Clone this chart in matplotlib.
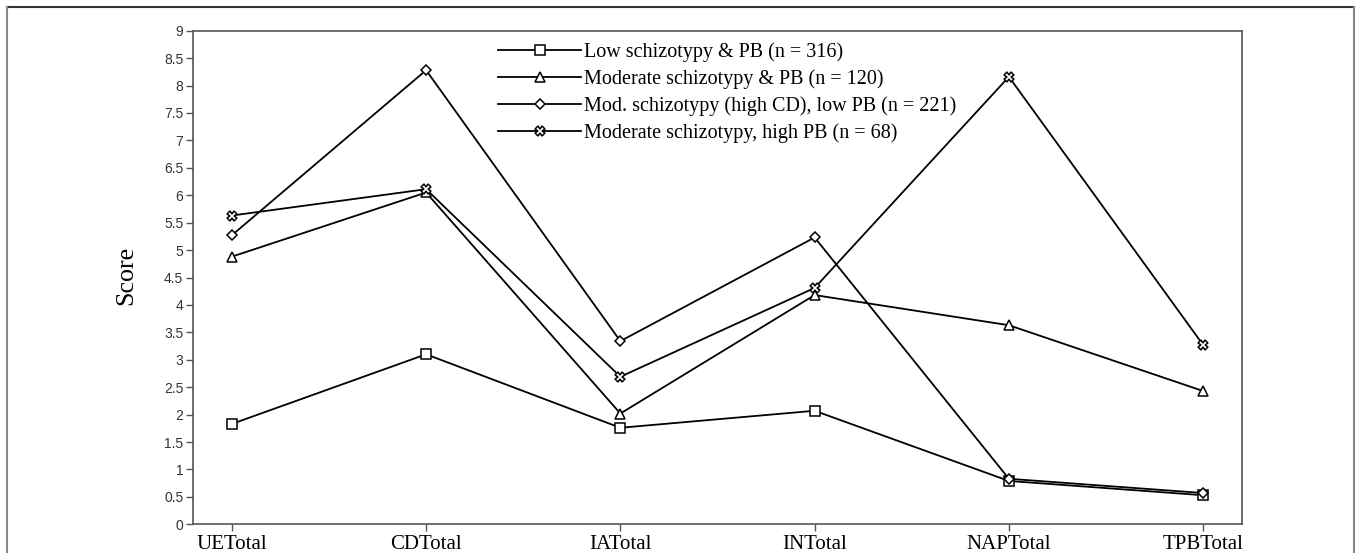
import matplotlib
matplotlib.use("Agg")
import matplotlib.pyplot as plt
from matplotlib.lines import Line2D

categories = ["UETotal", "CDTotal", "IATotal", "INTotal", "NAPTotal", "TPBTotal"]
low_pb = [1.83, 3.10, 1.76, 2.07, 0.79, 0.53]
moderate_pb = [4.88, 6.05, 2.02, 4.18, 3.63, 2.43]
mod_high_cd = [5.27, 8.28, 3.34, 5.23, 0.83, 0.57]
mod_high_pb = [5.63, 6.11, 2.69, 4.31, 8.16, 3.27]
labels = ["Low schizotypy & PB (n = 316)",
          "Moderate schizotypy & PB (n = 120)",
          "Mod. schizotypy (high CD), low PB (n = 221)",
          "Moderate schizotypy, high PB (n = 68)"]
yticks = [0, 0.5, 1, 1.5, 2, 2.5, 3, 3.5, 4, 4.5, 5, 5.5, 6, 6.5, 7, 7.5, 8, 8.5, 9]

W, H = 1360, 553
fig = plt.figure(figsize=(W / 100, H / 100), dpi=100)
ax = fig.add_axes([193 / W, 1 - 524.3 / H, (1242 - 193) / W, (524.3 - 30.7) / H])

x = list(range(len(categories)))
series = [low_pb, moderate_pb, mod_high_cd, mod_high_pb]
markers = ["s", "^", "D", "X"]
msizes = [6.5, 6.5, 5.0, 7.0]
for vals, m, ms, lab in zip(series, markers, msizes, labels):
    ax.plot(x, vals, color="black", lw=1.3, marker=m, markersize=ms,
            markerfacecolor="white", markeredgecolor="black", markeredgewidth=1.1,
            label=lab)

ax.set_xlim(-0.2, 5.2)
ax.set_ylim(0, 9)
ax.set_xticks(x)
ax.set_xticklabels(categories, family="Liberation Serif", fontsize=15)
ax.set_yticks(yticks)
ax.set_yticklabels([f"{v:g}" for v in yticks], family="Liberation Sans", fontsize=10, color="#333333")
ax.tick_params(axis="both", direction="out", length=5, width=1, color="#555555", pad=2)
ax.tick_params(axis="x", pad=3)
for s in ax.spines.values():
    s.set_color("#555555")
    s.set_linewidth(1.2)

ax.set_ylabel("Score", family="Liberation Serif", fontsize=18.7)
ax.yaxis.set_label_coords(-0.053, 0.505)

leg = ax.legend(loc="upper left", bbox_to_anchor=(0.291, 0.977), frameon=False,
                prop={"family": "Liberation Serif", "size": 14.5},
                handlelength=4.1, handletextpad=0.15, labelspacing=0.37,
                borderpad=0, borderaxespad=0)

# outer figure frame (open at bottom)
frame_kw = dict(color="#333333", lw=1.5, transform=fig.transFigure)
fig.add_artist(Line2D([7 / W, 1354 / W], [1 - 7 / H, 1 - 7 / H], **frame_kw))
fig.add_artist(Line2D([7 / W, 7 / W], [0, 1 - 7 / H], color="#888888", lw=1.5, transform=fig.transFigure))
fig.add_artist(Line2D([1354 / W, 1354 / W], [0, 1 - 7 / H], color="#888888", lw=1.5, transform=fig.transFigure))

fig.savefig("out.png", dpi=100)
